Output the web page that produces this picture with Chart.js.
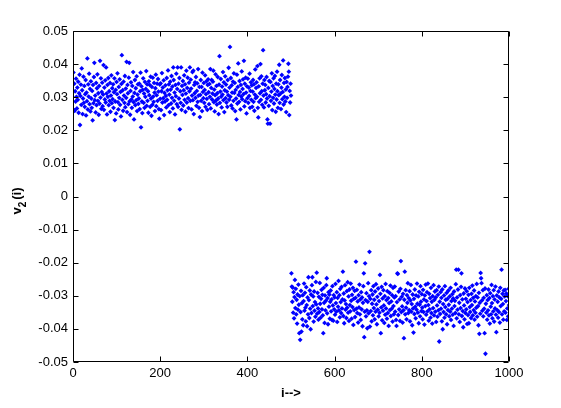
<!DOCTYPE html>
<html>
<head>
<meta charset="utf-8">
<title>v2(i)</title>
<script src="https://cdn.jsdelivr.net/npm/chart.js@4/dist/chart.umd.min.js"></script>
<style>
  body { margin: 0; background: #fff; }
  canvas { display: block; }
</style>
</head>
<body>
<canvas id="chart" width="561" height="408"></canvas>
<script>
// v2(i) values, in units of 1e-4
// first block: i = 1..500
const v2BlockA = [
  375,262,341,259,318,287,356,301,266,329,
  292,347,253,312,368,216,304,338,277,387,
  321,249,296,362,283,334,271,309,352,245,
  314,288,417,263,339,302,371,279,325,257,
  348,296,268,319,230,337,282,361,404,291,
  305,254,343,276,327,369,289,312,247,334,
  281,410,299,357,265,316,344,273,308,397,
  262,329,293,351,284,390,311,248,337,301,
  358,276,318,289,343,256,305,366,282,327,
  294,339,268,315,357,231,287,322,251,346,
  309,372,285,263,331,298,354,277,316,242,
  340,427,292,321,259,347,305,283,364,270,
  326,298,407,255,337,312,279,359,404,288,
  247,319,345,293,268,334,302,376,285,233,
  313,352,276,327,291,363,258,308,339,280,
  296,341,264,318,374,209,333,287,252,322,
  357,283,311,268,346,301,325,379,274,339,
  289,318,253,348,306,337,271,362,296,244,
  331,277,359,302,286,343,314,258,327,368,
  273,306,341,289,355,317,264,235,338,295,
  342,261,318,373,284,329,297,351,246,313,
  287,336,304,269,358,292,321,381,276,339,
  308,255,347,323,281,364,298,332,266,390,
  352,289,314,248,337,303,371,279,325,390,
  271,341,296,358,203,318,283,390,262,334,
  307,349,275,321,366,292,339,256,311,380,
  284,328,359,297,267,344,318,390,289,353,
  326,263,305,376,291,380,249,337,312,345,
  298,361,274,319,342,286,385,305,268,331,
  240,307,352,289,331,258,374,316,297,343,
  283,322,366,271,309,348,295,262,337,354,
  315,279,340,301,385,266,328,352,293,311,
  347,380,285,323,257,306,369,290,334,278,
  312,361,296,249,338,424,283,317,355,302,
  269,332,308,376,291,345,255,321,363,297,
  338,284,317,271,352,306,389,292,329,452,
  301,358,275,336,314,266,347,289,372,313,
  343,258,322,296,233,368,281,331,402,307,
  286,349,316,263,337,302,378,294,325,354,
  309,410,272,341,288,359,314,251,333,297,
  356,283,329,304,371,268,319,345,292,336,
  271,317,352,286,339,259,308,384,297,328,
  345,301,394,268,239,333,286,357,312,400,
  292,363,318,277,341,442,305,269,352,321,
  337,284,309,361,296,233,220,328,274,349,
  303,220,346,289,317,372,261,334,298,357,
  281,325,364,308,256,341,293,377,318,268,
  339,306,398,283,352,311,264,329,367,294,
  316,411,278,343,301,358,287,323,255,346,
  298,331,362,401,377,246,319,284,341,305
];
// second block: i = 501..1000
const v2BlockB = [
  -232,-272,-318,-275,-351,-289,-368,-304,-252,-337,
  -279,-356,-312,-384,-296,-342,-266,-327,-413,-301,
  -433,-349,-285,-408,-322,-371,-298,-389,-316,-263,
  -345,-291,-336,-377,-274,-328,-392,-305,-356,-244,
  -313,-367,-284,-339,-401,-296,-352,-268,-244,-331,
  -302,-378,-287,-345,-319,-363,-258,-326,-230,-354,
  -291,-338,-372,-303,-349,-261,-324,-366,-309,-282,
  -341,-297,-359,-413,-276,-321,-382,-299,-344,-315,
  -268,-247,-353,-307,-386,-289,-333,-296,-369,-318,
  -284,-347,-311,-373,-271,-329,-375,-298,-341,-305,
  -357,-264,-322,-348,-289,-379,-306,-333,-255,-344,
  -298,-365,-279,-319,-352,-273,-338,-311,-227,-361,
  -293,-383,-314,-268,-342,-325,-367,-286,-336,-259,
  -351,-302,-376,-281,-328,-347,-263,-315,-369,-297,
  -334,-276,-388,-309,-343,-285,-364,-306,-197,-339,
  -282,-352,-317,-381,-298,-335,-266,-356,-311,-373,
  -289,-341,-305,-392,-321,-271,-232,-425,-348,-202,
  -313,-362,-292,-344,-398,-318,-262,-353,-301,-167,
  -393,-309,-346,-283,-377,-324,-296,-359,-271,-337,
  -312,-371,-287,-348,-265,-326,-386,-303,-342,-278,
  -362,-316,-351,-237,-294,-413,-335,-273,-374,-308,
  -345,-283,-329,-382,-301,-357,-264,-338,-313,-369,
  -286,-352,-307,-391,-322,-291,-343,-269,-361,-317,
  -339,-298,-378,-276,-331,-356,-305,-272,-348,-301,
  -373,-391,-319,-232,-234,-358,-287,-341,-311,-376,
  -279,-195,-349,-303,-332,-381,-294,-344,-428,-312,
  -227,-356,-283,-336,-371,-298,-321,-262,-352,-307,
  -343,-286,-377,-314,-267,-348,-325,-389,-296,-338,
  -411,-309,-355,-281,-333,-368,-299,-342,-263,-324,
  -351,-302,-383,-288,-327,-362,-271,-318,-346,-295,
  -336,-371,-282,-349,-311,-387,-299,-331,-266,-357,
  -316,-289,-347,-263,-328,-375,-294,-341,-307,-366,
  -276,-352,-318,-384,-301,-337,-268,-359,-312,-287,
  -348,-305,-379,-283,-329,-363,-297,-344,-272,-438,
  -318,-355,-289,-339,-306,-377,-281,-401,-325,-349,
  -299,-366,-271,-334,-312,-356,-291,-386,-309,-343,
  -284,-327,-362,-302,-348,-276,-373,-316,-339,-295,
  -357,-308,-391,-287,-331,-315,-352,-265,-221,-368,
  -305,-342,-281,-221,-356,-321,-379,-298,-337,-273,
  -232,-361,-311,-346,-395,-293,-329,-371,-278,-352,
  -309,-341,-286,-385,-319,-358,-297,-383,-276,-334,
  -349,-313,-367,-294,-328,-269,-359,-306,-343,-284,
  -372,-317,-351,-301,-336,-264,-363,-305,-331,-389,
  -291,-415,-321,-354,-231,-247,-262,-314,-345,-283,
  -362,-306,-339,-413,-278,-475,-324,-351,-298,-372,
  -313,-344,-281,-359,-307,-384,-292,-333,-356,-267,
  -322,-368,-301,-347,-283,-378,-311,-338,-272,-357,
  -410,-299,-343,-318,-366,-287,-349,-305,-381,-276,
  -331,-309,-221,-356,-294,-325,-372,-284,-347,-302,
  -282,-351,-316,-293,-373,-338,-301,-362,-279,-328
];

const xTicks = [0, 200, 400, 600, 800, 1000];
const yTicks = [-0.05, -0.04, -0.03, -0.02, -0.01, 0, 0.01, 0.02, 0.03, 0.04, 0.05];
const xLabel = "i-->";

const points = v2BlockA.concat(v2BlockB).map((v, k) => ({ x: k + 1, y: v * 1e-4 }));

const FONT = "'Liberation Sans', Arial, Helvetica, sans-serif";

// matlab style box, inward ticks and axis labels
const boxPlugin = {
  id: "box",
  afterDraw(chart) {
    const ctx = chart.ctx;
    const a = chart.chartArea;
    const sx = chart.scales.x, sy = chart.scales.y;
    const L = Math.round(a.left) + 0.5, R = Math.round(a.right) - 0.5;
    const T = Math.round(a.top) + 0.5, B = Math.round(a.bottom) - 0.5;
    ctx.save();
    ctx.strokeStyle = "#000";
    ctx.lineWidth = 1;
    ctx.beginPath();
    ctx.rect(L, T, R - L, B - T);
    yTicks.forEach((t) => {
      const y = Math.round(sy.getPixelForValue(t)) + 0.5;
      ctx.moveTo(L, y); ctx.lineTo(L + 5, y);
      ctx.moveTo(R, y); ctx.lineTo(R - 5, y);
    });
    xTicks.forEach((t) => {
      const x = Math.round(sx.getPixelForValue(t)) + 0.5;
      ctx.moveTo(x, B); ctx.lineTo(x, B - 5);
      ctx.moveTo(x, T); ctx.lineTo(x, T + 5);
    });
    ctx.stroke();

    ctx.fillStyle = "#000";
    ctx.font = "bold 13px " + FONT;
    ctx.textAlign = "center";
    ctx.textBaseline = "middle";
    ctx.fillText(xLabel, (a.left + a.right) / 2, 393);

    // y label: v_2(i)
    ctx.translate(21, 201);
    ctx.rotate(-Math.PI / 2);
    ctx.textBaseline = "alphabetic";
    ctx.textAlign = "left";
    const wV = ctx.measureText("v").width;
    const wP = ctx.measureText("(i)").width;
    ctx.font = "bold 10px " + FONT;
    const w2 = ctx.measureText("2").width;
    let x0 = -(wV + w2 + 2 + wP) / 2;
    ctx.font = "bold 13px " + FONT;
    ctx.fillText("v", x0, 0);
    ctx.font = "bold 10px " + FONT;
    ctx.fillText("2", x0 + wV, 5);
    ctx.font = "bold 13px " + FONT;
    ctx.fillText("(i)", x0 + wV + w2 + 2, 0);
    ctx.restore();
  },
};

new Chart(document.getElementById("chart"), {
  type: "scatter",
  data: {
    datasets: [
      {
        data: points,
        pointStyle: "rectRot",
        pointRadius: 2.4,
        pointBorderWidth: 0,
        backgroundColor: "#0000ff",
        borderColor: "#0000ff",
      },
    ],
  },
  options: {
    responsive: false,
    animation: false,
    events: [],
    layout: { padding: { top: 31, right: 52, left: 0, bottom: 0 } },
    plugins: { legend: { display: false }, tooltip: { enabled: false } },
    scales: {
      x: {
        type: "linear",
        min: 0,
        max: 1000,
        afterFit: (s) => { s.height = 46; },
        afterBuildTicks: (s) => { s.ticks = xTicks.map((v) => ({ value: v })); },
        grid: { display: false, drawTicks: false },
        border: { display: false },
        ticks: {
          padding: 4,
          color: "#000",
          font: { family: FONT, size: 13 },
          maxRotation: 0,
          callback: (v) => String(v),
        },
      },
      y: {
        type: "linear",
        min: -0.05,
        max: 0.05,
        afterFit: (s) => { s.width = 73; },
        afterBuildTicks: (s) => { s.ticks = yTicks.map((v) => ({ value: v })); },
        grid: { display: false, drawTicks: false },
        border: { display: false },
        ticks: {
          padding: 5,
          color: "#000",
          font: { family: FONT, size: 13 },
          callback: (v) => String(Number(v.toFixed(2))),
        },
      },
    },
  },
  plugins: [boxPlugin],
});
</script>
</body>
</html>
